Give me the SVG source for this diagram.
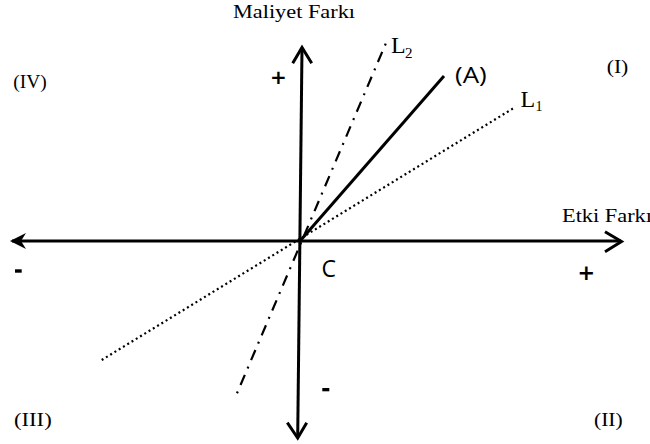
<svg xmlns="http://www.w3.org/2000/svg" width="650" height="444" viewBox="0 0 650 444">
<style>
.serif{font-family:"Liberation Serif","Times New Roman",serif;fill:#000}
.sans{font-family:"Open Sans","DejaVu Sans",sans-serif;fill:#000}
.bold{font-family:"DejaVu Sans","Liberation Sans",sans-serif;font-weight:bold;fill:#000}
.axis{stroke:#000;stroke-width:3;fill:none}
.head{stroke:#000;stroke-width:3;fill:none;stroke-linecap:butt;stroke-linejoin:miter}
</style>
<rect width="650" height="444" fill="#fff"/>
<g id="connectors">
  <line id="x-axis" class="axis" x1="12" y1="241" x2="621" y2="241"/>
  <line id="y-axis" class="axis" x1="302" y1="48" x2="297.7" y2="437"/>
  <polyline class="head" points="605,231.7 621.5,241.5 605,251.7"/>
  <polygon points="10,241 26,233 21,241 26,249" fill="#000"/>
  <polyline class="head" points="292.7,63.3 302,47.5 311.7,63.3"/>
  <polyline class="head" points="287.3,422.7 297.7,438 306.7,422.7"/>
</g>
<g id="lines">
  <line id="line-A" x1="300" y1="241" x2="444" y2="76" stroke="#000" stroke-width="3"/>
  <line id="line-L1" x1="101.7" y1="360" x2="513.3" y2="108.3" stroke="#000" stroke-width="2.2" stroke-dasharray="2 3"/>
  <line id="line-L2" x1="237" y1="393.3" x2="386" y2="43" stroke="#000" stroke-width="2.2" stroke-dasharray="2 7 11 7"/>
</g>
<g id="labels">
  <text class="serif" x="233" y="18.3" font-size="19" textLength="122" lengthAdjust="spacingAndGlyphs">Maliyet Farkı</text>
  <text class="serif" x="562" y="221.7" font-size="19" textLength="90" lengthAdjust="spacingAndGlyphs">Etki Farkı</text>
  <text class="serif" x="13.3" y="88" font-size="19" textLength="33.4" lengthAdjust="spacingAndGlyphs">(IV)</text>
  <text class="serif" x="606.7" y="73.3" font-size="19" textLength="21.6" lengthAdjust="spacingAndGlyphs">(I)</text>
  <text class="serif" x="14" y="426" font-size="19" textLength="37.7" lengthAdjust="spacingAndGlyphs">(III)</text>
  <text class="serif" x="594" y="426" font-size="19" textLength="28.7" lengthAdjust="spacingAndGlyphs">(II)</text>
  <text class="serif" x="391" y="53.3" font-size="24">L</text>
  <text class="serif" x="405" y="58" font-size="15">2</text>
  <text class="serif" x="520.5" y="106.7" font-size="24">L</text>
  <text class="serif" x="535.5" y="111" font-size="14">1</text>
  <text class="sans" x="455" y="82.7" font-size="22" textLength="31.7" lengthAdjust="spacingAndGlyphs">(A)</text>
  <text class="sans" x="321.5" y="277" font-size="23">C</text>
  <text class="bold" x="278.3" y="84" font-size="20" text-anchor="middle">+</text>
  <text class="bold" x="586.3" y="280" font-size="21" text-anchor="middle">+</text>
  <rect x="15" y="269.3" width="6.7" height="3.4" fill="#000"/>
  <rect x="322.3" y="388" width="7" height="3.3" fill="#000"/>
</g>
</svg>
